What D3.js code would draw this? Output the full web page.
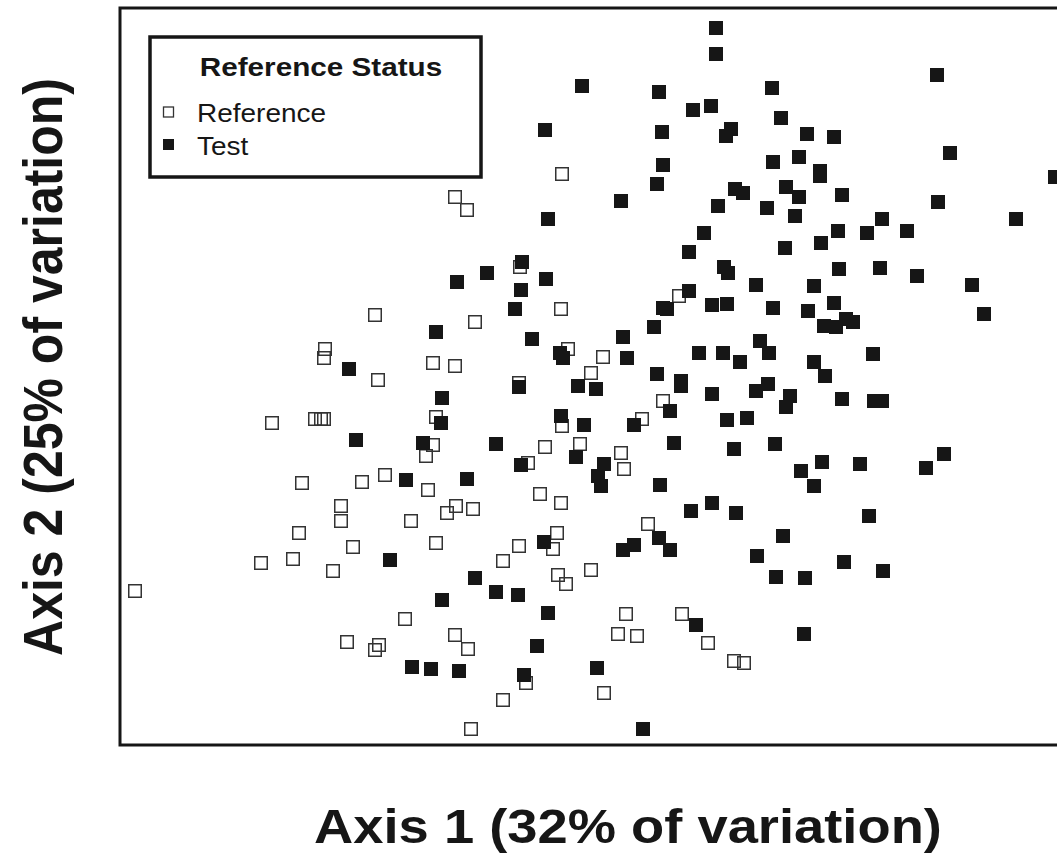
<!DOCTYPE html>
<html>
<head>
<meta charset="utf-8">
<script src="https://cdn.jsdelivr.net/npm/d3@7/dist/d3.min.js"></script>
<style>
  body { margin: 0; background: #fff; }
  svg { display: block; font-family: "Liberation Sans", Arial, sans-serif; }
</style>
</head>
<body>
<div id="chart-area"></div>
<script>
// Ordination scores: [axis 1, axis 2]
const referencePoints = [
  [-0.28, 2.06], [-1.35, 1.83], [-1.23, 1.70], [-0.70, 1.13], [-0.29, 0.71],
  [-2.15, 0.65], [-1.15, 0.58], [-2.65, 0.31], [-2.66, 0.22], [-0.22, 0.31],
  [0.13, 0.23], [-1.57, 0.17], [-1.35, 0.14], [-2.12, 0.00], [0.01, 0.07],
  [-0.71, -0.03], [0.89, 0.84], [-3.18, -0.43], [-2.75, -0.39], [-2.69, -0.39],
  [-2.66, -0.39], [-1.54, -0.37], [-0.28, -0.46], [-1.57, -0.65], [-1.64, -0.76],
  [-0.45, -0.67], [-0.10, -0.64], [-0.62, -0.83], [0.73, -0.21], [0.52, -0.39],
  [0.31, -0.73], [0.34, -0.89], [-2.88, -1.03], [-2.28, -1.02], [-2.05, -0.95],
  [-1.62, -1.10], [-0.50, -1.14], [-0.29, -1.23], [-2.49, -1.26], [-2.49, -1.41],
  [-2.91, -1.53], [-2.37, -1.67], [-3.29, -1.83], [-2.97, -1.79], [-2.57, -1.91],
  [-4.55, -2.11], [-1.43, -1.33], [-1.34, -1.26], [-1.17, -1.29], [-1.79, -1.41],
  [-1.54, -1.63], [-0.71, -1.66], [-0.87, -1.81], [-0.33, -1.53], [-0.37, -1.69],
  [0.01, -1.90], [-0.32, -1.95], [-0.24, -2.04], [0.58, -1.44], [-1.85, -2.39],
  [-2.43, -2.62], [-2.11, -2.65], [-2.15, -2.70], [-1.35, -2.55], [-1.22, -2.69],
  [-0.64, -3.03], [-0.87, -3.20], [-1.19, -3.49], [0.14, -3.13], [0.36, -2.34],
  [0.92, -2.34], [0.28, -2.54], [0.47, -2.56], [1.18, -2.63], [1.44, -2.81],
  [1.54, -2.83]
];

const testPoints = [
  [1.26, 3.52], [1.26, 3.26], [3.47, 3.05], [-0.08, 2.94], [0.69, 2.88],
  [1.82, 2.92], [1.21, 2.74], [1.03, 2.70], [1.91, 2.62], [-0.45, 2.50],
  [1.41, 2.51], [1.36, 2.44], [0.72, 2.48], [2.17, 2.46], [2.44, 2.43],
  [3.60, 2.27], [0.73, 2.15], [1.83, 2.18], [2.09, 2.23], [2.30, 2.09],
  [2.30, 2.04], [4.65, 2.03], [0.67, 1.96], [1.45, 1.91], [1.53, 1.87],
  [1.96, 1.93], [2.09, 1.83], [2.52, 1.85], [3.48, 1.78], [0.31, 1.79],
  [1.28, 1.74], [1.77, 1.72], [2.05, 1.64], [-0.42, 1.61], [2.92, 1.61],
  [4.26, 1.61], [1.14, 1.47], [2.48, 1.49], [2.77, 1.47], [3.17, 1.49],
  [2.31, 1.37], [1.95, 1.32], [0.99, 1.28], [-0.68, 1.18], [-1.03, 1.07],
  [-1.33, 0.98], [-0.44, 1.01], [-0.69, 0.90], [-0.75, 0.71], [1.34, 1.13],
  [1.38, 1.07], [2.49, 1.11], [2.90, 1.12], [3.27, 1.04], [3.82, 0.95],
  [1.66, 0.95], [2.24, 0.94], [0.99, 0.89], [0.73, 0.72], [0.77, 0.71],
  [1.22, 0.75], [1.37, 0.76], [1.83, 0.72], [2.18, 0.69], [2.44, 0.77],
  [3.94, 0.66], [2.56, 0.61], [2.63, 0.58], [2.34, 0.54], [2.46, 0.53],
  [0.64, 0.53], [0.33, 0.43], [-1.54, 0.48], [-0.58, 0.41], [1.70, 0.39],
  [1.79, 0.27], [1.09, 0.27], [1.33, 0.27], [1.50, 0.18], [-0.30, 0.27],
  [-0.27, 0.22], [0.37, 0.22], [2.24, 0.18], [2.83, 0.26], [2.35, 0.04],
  [-2.41, 0.11], [0.67, 0.06], [0.91, -0.01], [0.91, -0.06], [-0.71, -0.07],
  [-0.12, -0.06], [0.06, -0.09], [1.66, -0.11], [1.78, -0.04], [2.00, -0.16],
  [1.96, -0.27], [1.22, -0.14], [2.52, -0.19], [2.84, -0.21], [2.92, -0.21],
  [-1.48, -0.18], [0.80, -0.31], [1.37, -0.40], [1.57, -0.38], [0.44, -0.45],
  [-0.06, -0.45], [-0.29, -0.36], [-1.49, -0.43], [-2.34, -0.60], [-1.67, -0.63],
  [-0.94, -0.64], [0.84, -0.63], [1.44, -0.69], [1.85, -0.64], [-0.14, -0.77],
  [-0.69, -0.85], [0.14, -0.84], [0.08, -0.96], [0.11, -1.06], [0.70, -1.05],
  [2.11, -0.91], [2.32, -0.82], [2.24, -1.06], [2.70, -0.84], [3.36, -0.88],
  [3.54, -0.74], [-1.84, -1.00], [-1.23, -0.99], [1.22, -1.23], [1.01, -1.31],
  [1.46, -1.33], [2.79, -1.36], [0.69, -1.58], [0.44, -1.65], [0.33, -1.70],
  [0.80, -1.70], [-0.46, -1.62], [1.93, -1.56], [1.67, -1.76], [2.54, -1.82],
  [1.86, -1.97], [2.15, -1.98], [2.93, -1.91], [-2.00, -1.80], [-1.15, -1.98],
  [-0.94, -2.12], [-0.72, -2.15], [-1.48, -2.20], [-0.42, -2.33], [1.06, -2.45],
  [2.14, -2.54], [-0.53, -2.66], [-1.78, -2.87], [-1.59, -2.89], [-1.31, -2.91],
  [-0.66, -2.95], [0.07, -2.88], [0.53, -3.49]
];

const legendTitle = "Reference Status";
const legendItems = ["Reference", "Test"];
const xLabel = "Axis 1 (32% of variation)";
const yLabel = "Axis 2 (25% of variation)";

const margin = { top: 8, right: -13, bottom: 109, left: 120 };
const totalWidth = 1057;
const totalHeight = 854;
// plot runs past the right edge of the picture
const width = 950;
const height = totalHeight - margin.top - margin.bottom;
const ink = "#161616";
const stretch = 1.12; // the picture is a little wider than tall

const svg = d3
  .select("#chart-area")
  .append("svg")
  .attr("width", totalWidth)
  .attr("height", totalHeight);

const g = svg
  .append("g")
  .attr("transform", `translate(${margin.left}, ${margin.top})`);

//Scales
const xScale = d3.scaleLinear().domain([-4.7, 4.8]).range([0, width]);
const yScale = d3.scaleLinear().domain([-3.65, 3.72]).range([height, 0]);

//Frame
g.append("rect")
  .attr("x", 0)
  .attr("y", 0)
  .attr("width", width + 20)
  .attr("height", height)
  .attr("fill", "none")
  .attr("stroke", ink)
  .attr("stroke-width", 3);

//Points
const size = 14;
g.append("g")
  .selectAll("rect")
  .data(referencePoints)
  .join("rect")
  .attr("x", (d) => xScale(d[0]) - size / 2 + 0.75)
  .attr("y", (d) => yScale(d[1]) - size / 2 + 0.75)
  .attr("width", size - 1.5)
  .attr("height", size - 1.5)
  .attr("fill", "none")
  .attr("stroke", "#333")
  .attr("stroke-width", 1.5);

g.append("g")
  .selectAll("rect")
  .data(testPoints)
  .join("rect")
  .attr("x", (d) => xScale(d[0]) - size / 2)
  .attr("y", (d) => yScale(d[1]) - size / 2)
  .attr("width", size)
  .attr("height", size)
  .attr("fill", ink);

//Text helper, stretched horizontally like the picture
const addText = (x, y, str, opts = {}) =>
  svg
    .append("text")
    .attr(
      "transform",
      `translate(${x}, ${y}) scale(${stretch}, 1)` + (opts.rotate ? " rotate(-90)" : "")
    )
    .attr("text-anchor", opts.anchor || "start")
    .attr("font-size", opts.size)
    .attr("font-weight", opts.bold ? "bold" : "normal")
    .attr("fill", ink)
    .text(str);

//Legend
svg
  .append("rect")
  .attr("x", 150)
  .attr("y", 37)
  .attr("width", 331)
  .attr("height", 140)
  .attr("fill", "#fff")
  .attr("stroke", ink)
  .attr("stroke-width", 3.5);

addText(321, 76, legendTitle, { size: 26.5, bold: true, anchor: "middle" });

legendItems.forEach((item, i) => {
  const cy = 112 + i * 32.5;
  const sq = svg.append("rect").attr("width", 11).attr("height", 11);
  if (i === 0) {
    sq.attr("x", 163.5)
      .attr("y", cy - 5)
      .attr("width", 10)
      .attr("height", 10)
      .attr("fill", "none")
      .attr("stroke", "#333")
      .attr("stroke-width", 1.3);
  } else {
    sq.attr("x", 163).attr("y", cy - 5.5).attr("fill", ink);
  }
  addText(197, cy + 10, item, { size: 25 });
});

//Axis labels
addText(628, 843, xLabel, { size: 48.5, bold: true, anchor: "middle" });
addText(62, 367, yLabel, { size: 50, bold: true, anchor: "middle", rotate: true });
</script>
</body>
</html>
